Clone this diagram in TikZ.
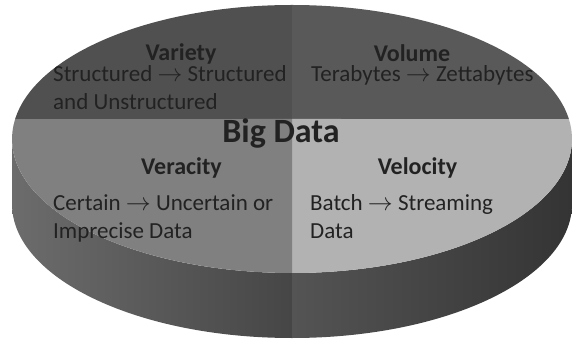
\documentclass[tikz,border=0pt]{standalone}
\usepackage{fontspec}
\setmainfont{Carlito}
\usetikzlibrary{calc}
\definecolor{cvariety}{RGB}{80,80,80}
\definecolor{cvolume}{RGB}{89,89,89}
\definecolor{cveracity}{RGB}{128,128,128}
\definecolor{cvelocity}{RGB}{178,178,178}
\definecolor{sideLa}{RGB}{108,108,108}
\definecolor{sideLb}{RGB}{70,70,70}
\definecolor{sideRa}{RGB}{84,84,84}
\definecolor{sideRb}{RGB}{52,52,52}
\definecolor{txt}{RGB}{34,34,34}
\tikzset{
  head/.style={inner sep=0pt, anchor=base, text=txt, font=\fontsize{24}{29}\selectfont\bfseries},
  body/.style={inner sep=0pt, anchor=base west, text=txt, font=\fontsize{23}{28}\selectfont},
  title/.style={inner sep=0pt, anchor=base, text=txt, font=\fontsize{34}{40}\selectfont\bfseries},
}
\begin{document}
\begin{tikzpicture}[x=1pt,y=1pt]
\useasboundingbox (0,0) rectangle (572,340);
\coordinate (Ct) at (292,201);
\coordinate (Cb) at (292,136);
\coordinate (P) at (292,221);
% side of the disc
\shade[left color=sideLa, right color=sideLb]
  ($(Ct)+(180:280 and 134)$) -- ($(Cb)+(180:280 and 134)$)
  arc[start angle=180, end angle=270, x radius=280, y radius=134]
  -- ($(Ct)+(270:280 and 134)$)
  arc[start angle=270, end angle=180, x radius=280, y radius=134] -- cycle;
\shade[left color=sideRa, right color=sideRb]
  ($(Ct)+(270:280 and 134)$) -- ($(Cb)+(270:280 and 134)$)
  arc[start angle=270, end angle=360, x radius=280, y radius=134]
  -- ($(Ct)+(0:280 and 134)$)
  arc[start angle=360, end angle=270, x radius=280, y radius=134] -- cycle;
% top quadrants
\fill[cvariety] (P) -- ($(Ct)+(171.42:280 and 134)$)
  arc[start angle=171.42, end angle=90, x radius=280, y radius=134] -- cycle;
\fill[cvolume] (P) -- ($(Ct)+(90:280 and 134)$)
  arc[start angle=90, end angle=8.58, x radius=280, y radius=134] -- cycle;
\fill[cvelocity] (P) -- ($(Ct)+(8.58:280 and 134)$)
  arc[start angle=8.58, end angle=-90, x radius=280, y radius=134] -- cycle;
\fill[cveracity] (P) -- ($(Ct)+(270:280 and 134)$)
  arc[start angle=270, end angle=171.42, x radius=280, y radius=134] -- cycle;
% texts
\node[head] (variety) at (181,279) {Variety};
\node[body] (var1) at (53,258) {Structured $\rightarrow$ Structured};
\node[body] (var2) at (53,230) {and Unstructured};
\node[head] (volume) at (412,278) {Volume};
\node[body] (vol1) at (311,258) {Terabytes $\rightarrow$ Zettabytes};
\node[title] (big) at (281,197) {Big Data};
\node[head] (veracity) at (181.5,165) {Veracity};
\node[body] (ver1) at (53,129) {Certain $\rightarrow$ Uncertain or};
\node[body] (ver2) at (53,102) {Imprecise Data};
\node[head] (velocity) at (417.5,165) {Velocity};
\node[body] (vel1) at (310,129) {Batch $\rightarrow$ Streaming};
\node[body] (vel2) at (310,102) {Data};
\end{tikzpicture}
\end{document}
